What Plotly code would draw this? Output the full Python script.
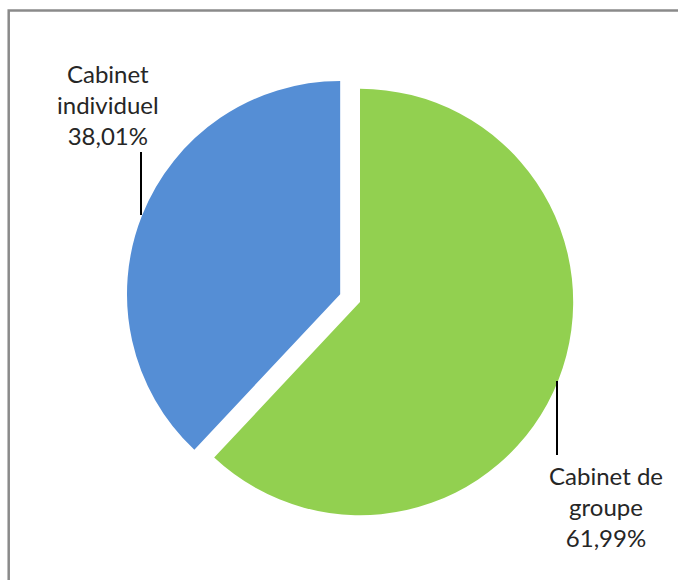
import plotly.graph_objects as go

labels = ["Cabinet de groupe", "Cabinet individuel"]
label_lines = [["Cabinet de", "groupe"], ["Cabinet", "individuel"]]
values = [61.99, 38.01]
colors = ["#92D050", "#558ED5"]
pulls = [0, 0.1]

W, H = 678, 580

fig = go.Figure(go.Pie(
    labels=labels,
    values=values,
    sort=False,
    direction="clockwise",
    rotation=0,
    pull=pulls,
    marker=dict(colors=colors, line=dict(width=0)),
    textinfo="none",
    hoverinfo="label+percent",
    showlegend=False,
    domain=dict(x=[125.5 / W, 594.5 / W], y=[1 - 536.5 / H, 1 - 67.5 / H]),
))

def fmt(v):
    return f"{v:.2f}".replace(".", ",") + "%"

# label positions (pixels)
label_pos = [(606, 506), (108, 104)]
font = dict(family="Lato, 'Open Sans', sans-serif", size=24, color="#262626")
for i in range(len(values)):
    x, y = label_pos[i]
    txt = "<br>".join(label_lines[i] + [fmt(values[i])])
    fig.add_annotation(x=x / W, y=1 - y / H, xref="paper", yref="paper",
                       text=txt, showarrow=False, font=font, align="center",
                       xanchor="center", yanchor="middle")

# leader lines
leaders = [(557, 381, 455), (141, 152, 215)]
for x, y0, y1 in leaders:
    fig.add_shape(type="line", xref="paper", yref="paper",
                  x0=x / W, x1=x / W, y0=1 - y0 / H, y1=1 - y1 / H,
                  line=dict(color="black", width=2))

# chart frame
fig.add_shape(type="rect", xref="paper", yref="paper",
              x0=8.7 / W, y0=-0.1, x1=1.1, y1=1 - 10.5 / H,
              line=dict(color="#8a8a8a", width=2.5), fillcolor="rgba(0,0,0,0)")

fig.update_layout(width=W, height=H, margin=dict(l=0, r=0, t=0, b=0),
                  paper_bgcolor="white", plot_bgcolor="white")

fig.write_html("out.html")
